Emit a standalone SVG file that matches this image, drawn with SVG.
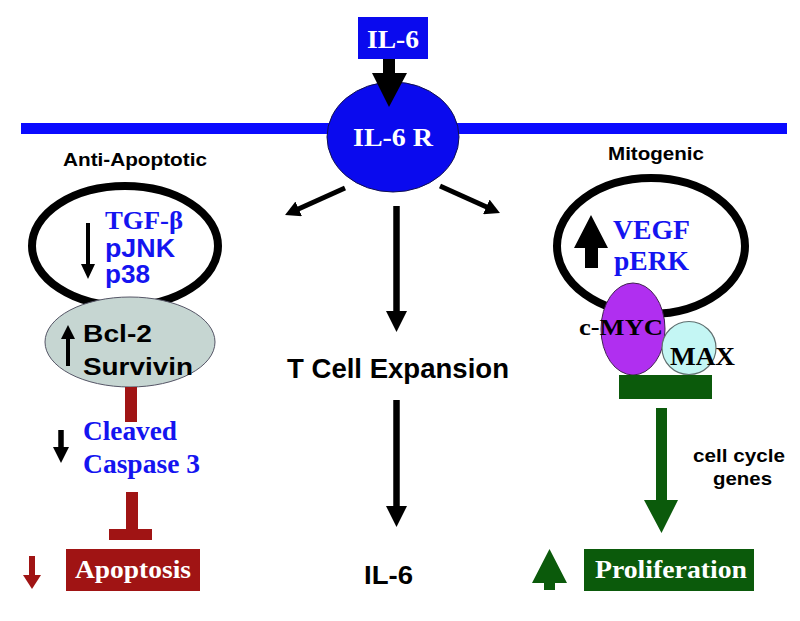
<svg xmlns="http://www.w3.org/2000/svg" width="800" height="621" viewBox="0 0 800 621">
<style>
.sans{font-family:"Liberation Sans",Arial,sans-serif;font-weight:bold}
.serif{font-family:"Liberation Serif","Times New Roman",serif;font-weight:bold}
.blue{fill:#1414f0}
.white{fill:#ffffff}
.blk{fill:#000000}
.ring{fill:none;stroke:#000;stroke-width:8}
.red{fill:#a01414}
.green{fill:#0b5a0b}
</style>
<defs>
<marker id="ahL" markerUnits="userSpaceOnUse" markerWidth="22" markerHeight="22" refX="1" refY="10.5" orient="auto"><path d="M0,0 L21,10.5 L0,21 Z" fill="#000"/></marker>
<marker id="ahM" markerUnits="userSpaceOnUse" markerWidth="16" markerHeight="16" refX="1" refY="8" orient="auto"><path d="M0,0 L15,8 L0,16 Z" fill="#000"/></marker>
</defs>
<rect width="800" height="621" fill="#fff"/>

<g id="membrane"><rect x="21" y="123" width="766" height="11" fill="#0a0aff"/></g>

<g id="il6-top"><rect x="358" y="17" width="70" height="42" fill="#0a0aee"/><text x="393" y="48" text-anchor="middle" class="serif white" font-size="26" textLength="52" lengthAdjust="spacingAndGlyphs">IL-6</text></g>

<g id="il6r"><ellipse cx="393" cy="137" rx="66" ry="55" fill="#0a0aee" stroke="#101050" stroke-width="1"/><text x="393" y="146" text-anchor="middle" class="serif white" font-size="25" textLength="80" lengthAdjust="spacingAndGlyphs">IL-6 R</text></g>

<g id="anti-apoptotic">
<text x="63" y="166" class="sans blk" font-size="18" textLength="144" lengthAdjust="spacingAndGlyphs">Anti-Apoptotic</text>
<ellipse cx="125" cy="246" rx="93" ry="60" class="ring"/>
<text x="105" y="229" class="serif blue" font-size="25" textLength="78" lengthAdjust="spacingAndGlyphs">TGF-β</text>
<text x="105" y="257" class="sans blue" font-size="25" textLength="70" lengthAdjust="spacingAndGlyphs">pJNK</text>
<text x="105" y="283" class="sans blue" font-size="25" textLength="45" lengthAdjust="spacingAndGlyphs">p38</text>
<path d="M88,223 V265" stroke="#000" stroke-width="4"/><path d="M81,264 L95,264 L88,279 Z" fill="#000"/>
</g>

<g id="bcl2">
<ellipse cx="130" cy="342" rx="85" ry="45" fill="#c6d6d2" stroke="#556" stroke-width="1"/>
<path d="M68,366 V338" stroke="#000" stroke-width="4"/><path d="M61,339 L75,339 L68,325 Z" fill="#000"/>
<text x="83" y="342" class="sans blk" font-size="23.5" textLength="69" lengthAdjust="spacingAndGlyphs">Bcl-2</text>
<text x="83" y="375" class="sans blk" font-size="23.5" textLength="110" lengthAdjust="spacingAndGlyphs">Survivin</text>
</g>

<g id="caspase">
<text x="83" y="440" class="serif blue" font-size="27" textLength="94" lengthAdjust="spacingAndGlyphs">Cleaved</text>
<text x="83" y="473" class="serif blue" font-size="27" textLength="117" lengthAdjust="spacingAndGlyphs">Caspase 3</text>
<path d="M61,430 V448" stroke="#000" stroke-width="5.5"/><path d="M53,447 L69,447 L61,463 Z" fill="#000"/>
</g>

<g id="apoptosis">
<rect x="66" y="549" width="134" height="42" class="red"/>
<text x="75" y="578" class="serif white" font-size="25" textLength="116" lengthAdjust="spacingAndGlyphs">Apoptosis</text>
<path d="M32,556 V576" stroke="#a01414" stroke-width="6"/><path d="M23,575 L41,575 L32,589 Z" class="red"/>
</g>

<g id="tcell"><text x="287" y="378" class="sans blk" font-size="27" textLength="222" lengthAdjust="spacingAndGlyphs">T Cell Expansion</text></g>
<g id="il6-bottom"><text x="364" y="584" class="sans blk" font-size="25" textLength="49" lengthAdjust="spacingAndGlyphs">IL-6</text></g>

<g id="mitogenic">
<text x="608" y="160" class="sans blk" font-size="18" textLength="96" lengthAdjust="spacingAndGlyphs">Mitogenic</text>
<ellipse cx="651" cy="246" rx="94" ry="68" class="ring"/>
<polygon points="591,215 608,248 598,248 598,268 585,268 585,248 574,248" fill="#000"/>
<text x="613" y="239" class="serif blue" font-size="27" textLength="77" lengthAdjust="spacingAndGlyphs">VEGF</text>
<text x="614" y="270" class="serif blue" font-size="27" textLength="75" lengthAdjust="spacingAndGlyphs">pERK</text>
</g>

<g id="cmyc-max">
<ellipse cx="633" cy="329" rx="32" ry="46" fill="#b02ff0" stroke="#402050" stroke-width="1"/>
<ellipse cx="689" cy="348" rx="27" ry="26.5" fill="#c4f6f4" stroke="#607070" stroke-width="1.2"/>
<rect x="619" y="375" width="93" height="24" class="green"/>
<text x="579" y="335" class="serif blk" font-size="24" textLength="84" lengthAdjust="spacingAndGlyphs">c-MYC</text>
<text x="670" y="365" class="serif blk" font-size="25" textLength="65" lengthAdjust="spacingAndGlyphs">MAX</text>
</g>

<g id="cellcycle">
<text x="693" y="462" class="sans blk" font-size="19" textLength="92" lengthAdjust="spacingAndGlyphs">cell cycle</text>
<text x="713" y="485" class="sans blk" font-size="19" textLength="59" lengthAdjust="spacingAndGlyphs">genes</text>
</g>

<g id="proliferation">
<rect x="584" y="549" width="170" height="42" class="green"/>
<text x="595" y="578" class="serif white" font-size="25" textLength="152" lengthAdjust="spacingAndGlyphs">Proliferation</text>
<polygon points="549.5,549 567,583 555,583 555,590 544,590 544,583 532,583" class="green"/>
</g>

<g id="connectors">
<polygon points="383,59 395,59 395,73 407,73 389,107 372,73 383,73" fill="#000"/>
<path d="M345,188 L297.8,209.3" stroke="#000" stroke-width="5" marker-end="url(#ahM)"/>
<path d="M440,186 L487.2,207.3" stroke="#000" stroke-width="5" marker-end="url(#ahM)"/>
<path d="M396.5,206 V312" stroke="#000" stroke-width="6.5" marker-end="url(#ahL)"/>
<path d="M396.5,400 V507" stroke="#000" stroke-width="6.5" marker-end="url(#ahL)"/>
<rect x="125" y="387" width="12" height="35" class="red"/>
<rect x="126" y="492" width="12" height="38" class="red"/>
<rect x="109" y="529" width="43" height="11" class="red"/>
<polygon points="656,408 667,408 667,500 678,500 661.5,533 644,500 656,500" class="green"/>
</g>
</svg>
